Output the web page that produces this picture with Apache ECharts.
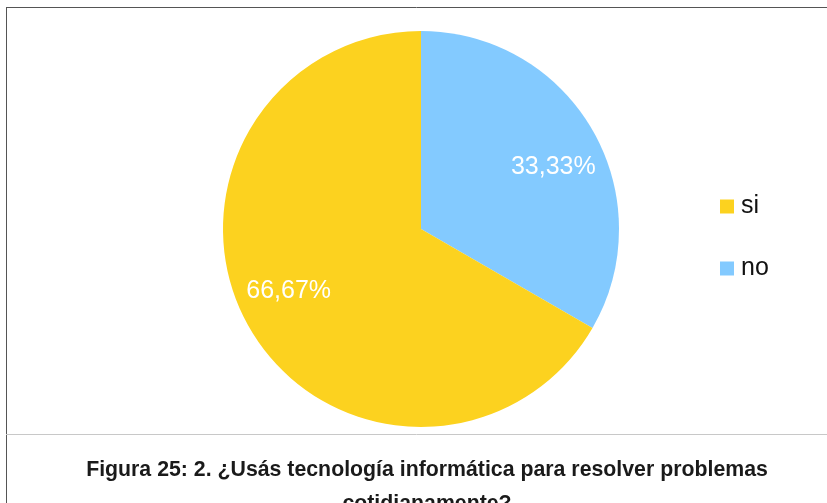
<!DOCTYPE html>
<html>
<head>
<meta charset="utf-8">
<script src="https://cdn.jsdelivr.net/npm/echarts@6/dist/echarts.min.js"></script>
<style>
  html, body { margin: 0; padding: 0; background: #fff; }
  #chart { width: 827px; height: 503px; }
</style>
</head>
<body>
<div id="chart"></div>
<script>
const categories = ["no", "si"]
const values = [33.33, 66.67]
const colors = ["#83CAFF", "#FCD21F"]
const legendOrder = ["si", "no"]
const caption = "Figura 25: 2. ¿Usás tecnología informática para resolver problemas\ncotidianamente?"

const pieData = categories.map((name, i) => ({
    name: name,
    value: values[i],
    itemStyle: { color: colors[i] }
}))

const myChart = echarts.init(document.getElementById("chart"))
myChart.setOption({
    animation: false,
    title: {
        text: caption,
        left: 422,
        textAlign: "center",
        top: 448,
        textStyle: {
            fontFamily: "Liberation Sans",
            fontSize: 21.3,
            fontWeight: "bold",
            color: "#1a1a1a",
            lineHeight: 34
        }
    },
    legend: {
        orient: "vertical",
        left: 715,
        top: 189,
        itemWidth: 14,
        itemHeight: 14,
        itemGap: 37,
        icon: "rect",
        data: legendOrder,
        textStyle: {
            fontFamily: "Liberation Sans",
            fontSize: 25,
            color: "#111",
            padding: [0, 0, 0, 2]
        }
    },
    graphic: [
        { type: "line", shape: { x1: 6, y1: 7.5, x2: 827, y2: 7.5 }, style: { stroke: "#555", lineWidth: 1 } },
        { type: "line", shape: { x1: 6.5, y1: 7, x2: 6.5, y2: 503 }, style: { stroke: "#555", lineWidth: 1 } },
        { type: "line", shape: { x1: 6, y1: 434.5, x2: 827, y2: 434.5 }, style: { stroke: "#c8c8c8", lineWidth: 1 } }
    ],
    series: [
        {
            type: "pie",
            center: [421, 229],
            radius: [0, 198],
            startAngle: 90,
            clockwise: true,
            label: { show: false },
            labelLine: { show: false },
            emphasis: { disabled: true },
            data: pieData
        },
        {
            // capa transparente solo para ubicar las etiquetas
            type: "pie",
            center: [421, 229],
            radius: [88, 198],
            startAngle: 85,
            clockwise: true,
            silent: true,
            itemStyle: { color: "rgba(0,0,0,0)" },
            label: {
                show: true,
                position: "inside",
                fontFamily: "Liberation Sans",
                fontSize: 25,
                color: "#fff",
                formatter: p => p.value.toFixed(2).replace(".", ",") + "%"
            },
            labelLine: { show: false },
            emphasis: { disabled: true },
            data: categories.map((name, i) => ({ name: name, value: values[i] })),
            legendHoverLink: false
        }
    ]
})
</script>
</body>
</html>
